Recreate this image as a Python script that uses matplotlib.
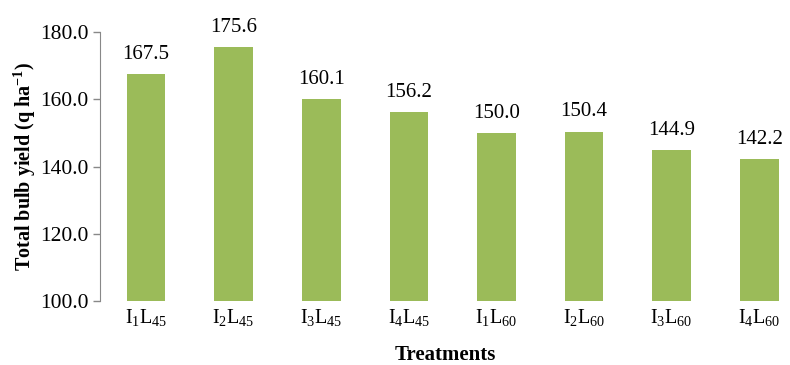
import matplotlib
matplotlib.use("Agg")
import matplotlib.pyplot as plt

treatments = [r"I$_1$L$_{45}$", r"I$_2$L$_{45}$", r"I$_3$L$_{45}$", r"I$_4$L$_{45}$",
              r"I$_1$L$_{60}$", r"I$_2$L$_{60}$", r"I$_3$L$_{60}$", r"I$_4$L$_{60}$"]
yield_vals = [167.5, 175.6, 160.1, 156.2, 150.0, 150.4, 144.9, 142.2]
y_ticks = [100, 120, 140, 160, 180]

plt.rcParams['font.family'] = ['Liberation Serif', 'DejaVu Serif']
plt.rcParams['mathtext.fontset'] = 'custom'
plt.rcParams['mathtext.rm'] = 'Liberation Serif'
plt.rcParams['mathtext.it'] = 'Liberation Serif:italic'
plt.rcParams['mathtext.bf'] = 'Liberation Serif:bold'

fig = plt.figure(figsize=(7.9, 3.65), dpi=100)
ax = fig.add_axes([100 / 790, 1 - 301 / 365, 690 / 790, 269 / 365])

x = list(range(len(treatments)))
bars = ax.bar(x, [v - 100 for v in yield_vals], bottom=100, width=0.44, color='#9BBB59')

for xi, v in zip(x, yield_vals):
    ax.text(xi, v + 3.0, f"{v:.1f}", ha='center', va='bottom', fontsize=15)

ax.set_ylim(100, 180)
ax.set_xlim(-0.525, 7.35)
ax.set_yticks(y_ticks)
ax.set_yticklabels([f"{t:.1f}" for t in y_ticks], fontsize=15.5)
ax.set_xticks(x)
ax.set_xticklabels(treatments, fontsize=14.5)
ax.tick_params(axis='x', length=0, pad=4)
ax.tick_params(axis='y', length=5, color='#888888', width=1, pad=3)

for s in ['top', 'right', 'bottom']:
    ax.spines[s].set_visible(False)
ax.spines['left'].set_color('#888888')

ax.set_ylabel(r"Total bulb yield (q ha$^{\mathbf{-1}}$)", fontsize=14.5, fontweight='bold', labelpad=2)
fig.text(445 / 790, 1 - 355 / 365, "Treatments", ha='center', va='center', fontsize=15, fontweight='bold')

fig.savefig("out.png", dpi=100)
